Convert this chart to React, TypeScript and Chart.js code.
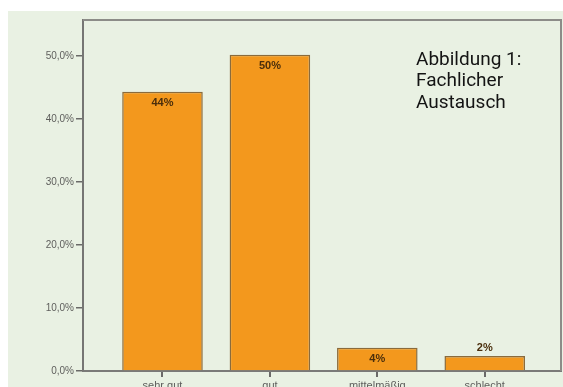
import React, { useEffect, useRef } from "react";
import { Chart, registerables } from "chart.js";

Chart.register(...registerables);

const categories = ["sehr gut", "gut", "mittelmäßig", "schlecht"];
const values = [44.3, 50.2, 3.7, 2.4];
const valueLabels = ["44%", "50%", "4%", "2%"];
const titleLines = ["Abbildung 1:", "Fachlicher", "Austausch"];
const yMax = 55.7;

const BG = "#e9f1e3";

const bgPlugin = {
  id: "bgfill",
  beforeDraw(chart: any) {
    const { ctx, width, height } = chart;
    ctx.save();
    ctx.fillStyle = BG;
    ctx.fillRect(0, 0, width, height);
    ctx.restore();
  },
};

const decoPlugin = {
  id: "deco",
  afterDraw(chart: any) {
    const { ctx, chartArea } = chart;
    const { left, right, top, bottom } = chartArea;
    ctx.save();
    // frame top/right
    ctx.strokeStyle = "#8c8c88";
    ctx.lineWidth = 2;
    ctx.beginPath();
    ctx.moveTo(left, top);
    ctx.lineTo(right, top);
    ctx.lineTo(right, bottom);
    ctx.stroke();

    // value labels
    const meta = chart.getDatasetMeta(0);
    ctx.font = "bold 11px 'Liberation Sans', Arial, sans-serif";
    ctx.fillStyle = "#4a2e0c";
    ctx.textAlign = "center";
    ctx.textBaseline = "middle";
    meta.data.forEach((bar: any, i: number) => {
      const h = bar.base - bar.y;
      const y = h > 18 ? bar.y + 11 : bar.y - 8;
      ctx.fillText(valueLabels[i], bar.x, y);
    });

    // title text
    ctx.font = "19px Roboto, sans-serif";
    ctx.fillStyle = "#141414";
    ctx.textAlign = "left";
    ctx.textBaseline = "alphabetic";
    titleLines.forEach((t, i) => {
      ctx.fillText(t, 408, 53.5 + i * 21.5);
    });
    ctx.restore();
  },
};

export default function App() {
  const ref = useRef<HTMLCanvasElement | null>(null);

  useEffect(() => {
    document.documentElement.style.overflow = "hidden";
    const canvas = ref.current;
    if (!canvas) return;
    const chart = new Chart(canvas, {
      type: "bar",
      data: {
        datasets: [
          {
            data: values.map((v, i) => ({ x: i, y: v })),
            backgroundColor: "#f3981d",
            borderColor: "#8a6b3c",
            borderWidth: 1.5,
            categoryPercentage: 0.75,
            barPercentage: 1,
          },
        ],
      },
      options: {
        responsive: false,
        animation: false,
        layout: { padding: { top: 9, right: 2, left: 0, bottom: 0 } },
        plugins: {
          legend: { display: false },
          tooltip: { enabled: false },
          title: { display: false },
        },
        scales: {
          x: {
            type: "linear",
            offset: false,
            min: -0.74,
            max: 3.71,
            afterFit(scale: any) {
              scale.height = 16;
            },
            border: { display: true, color: "#7a7a78", width: 2 },
            grid: {
              offset: false,
              drawOnChartArea: false,
              drawTicks: true,
              tickLength: 6,
              color: "#6a6a68",
              lineWidth: 2,
            },
            ticks: {
              stepSize: 1,
              includeBounds: false,
              autoSkip: false,
              maxRotation: 0,
              padding: 2,
              color: "#5e5e5c",
              font: { family: "'Liberation Sans', Arial, sans-serif", size: 11 },
              callback: (v: any) => {
                const i = Number(v);
                return Number.isInteger(i) && categories[i] !== undefined ? categories[i] : "";
              },
            },
          },
          y: {
            min: 0,
            max: yMax,
            afterFit(scale: any) {
              scale.width = 75;
            },
            border: { display: true, color: "#767674", width: 2 },
            grid: {
              drawOnChartArea: false,
              drawTicks: true,
              tickLength: 7,
              color: "#6a6a68",
              lineWidth: 1.5,
            },
            ticks: {
              stepSize: 10,
              includeBounds: false,
              padding: 2,
              color: "#5e5e5c",
              font: { family: "'Liberation Sans', Arial, sans-serif", size: 10 },
              callback: (v: any) => Number(v).toFixed(1).replace(".", ",") + "%",
            },
          },
        },
      },
      plugins: [bgPlugin, decoPlugin],
    } as any);
    return () => chart.destroy();
  }, []);

  return (
    <div style={{ position: "fixed", left: 8, top: 11, width: 555, height: 376 }}>
      <canvas ref={ref} width={555} height={376} style={{ display: "block" }} />
    </div>
  );
}
